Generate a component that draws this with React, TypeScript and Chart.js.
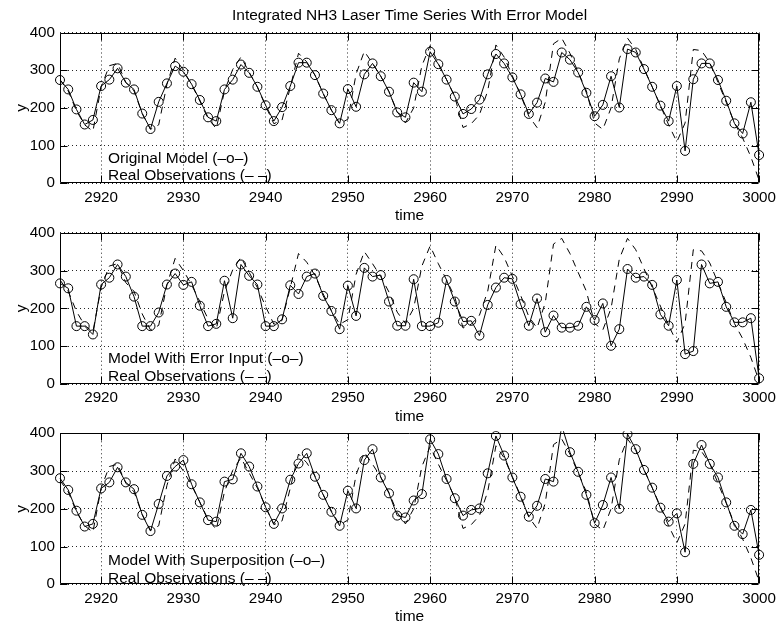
import React, { useEffect, useRef } from 'react';
import { Chart, registerables } from 'chart.js';

Chart.register(...registerables);

// ---------------- data ----------------
const FIRST_TIME = 2915;
const TIMES = Array.from({ length: 86 }, (_, i) => FIRST_TIME + i); // 2915 .. 3000

const OBSERVED = [
  275, 245, 192, 155, 138, 255, 312, 318, 268, 245,
  185, 143, 155, 262, 332, 300, 262, 218, 172, 145,
  245, 302, 335, 295, 255, 205, 158, 168, 255, 345,
  322, 287, 238, 194, 158, 170, 290, 350, 318, 284,
  243, 190, 160, 200, 312, 365, 318, 275, 230, 148,
  158, 182, 245, 367, 335, 285, 235, 178, 148, 215,
  370, 385, 345, 295, 245, 160, 143, 200, 330, 385,
  355, 305, 256, 206, 155, 110, 160, 355, 352, 320,
  268, 215, 160, 120, 70, 8,
];

const MODEL_ORIGINAL = [
  274, 249, 196, 156, 168, 258, 275, 305, 267, 249,
  185, 144, 216, 265, 311, 296, 263, 221, 175, 165,
  249, 275, 315, 293, 256, 207, 165, 202, 258, 320,
  320, 287, 238, 194, 159, 250, 203, 289, 318, 284,
  243, 188, 175, 267, 243, 349, 316, 275, 230, 184,
  197, 222, 289, 343, 318, 281, 236, 184, 214, 278,
  269, 347, 328, 294, 240, 178, 208, 284, 201, 356,
  347, 303, 256, 206, 165, 258, 86, 276, 318, 318,
  274, 219, 159, 132, 215, 75,
];

const MODEL_ERROR_INPUT = [
  266, 253, 153, 153, 131, 263, 281, 316, 284, 231,
  153, 153, 189, 263, 292, 262, 270, 207, 153, 159,
  273, 174, 316, 286, 263, 153, 153, 171, 261, 238,
  284, 292, 233, 193, 145, 260, 180, 307, 284, 288,
  218, 154, 154, 277, 153, 153, 162, 275, 218, 165,
  167, 128, 209, 255, 281, 278, 211, 154, 226, 137,
  181, 149, 149, 154, 204, 169, 213, 101, 145, 304,
  281, 284, 262, 184, 154, 275, 79, 87, 316, 266,
  270, 204, 163, 163, 174, 15,
];

const MODEL_SUPERPOSITION = [
  281, 250, 195, 153, 160, 254, 270, 310, 270, 252,
  184, 141, 213, 287, 312, 329, 265, 217, 170, 166,
  272, 278, 347, 312, 259, 204, 160, 201, 277, 320,
  347, 285, 237, 192, 155, 248, 201, 329, 358, 283,
  241, 182, 177, 222, 239, 384, 345, 279, 228, 182,
  197, 201, 294, 393, 341, 283, 232, 179, 208, 279,
  272, 420, 350, 298, 237, 162, 210, 283, 200, 398,
  358, 303, 256, 203, 166, 188, 85, 319, 369, 319,
  283, 217, 155, 133, 197, 78,
];

const X_TICKS = [2920, 2930, 2940, 2950, 2960, 2970, 2980, 2990, 3000];
const Y_TICKS = [0, 100, 200, 300, 400];
const X_RANGE = [2915, 3000];
const Y_RANGE = [0, 400];

const TITLE = 'Integrated NH3 Laser Time Series With Error Model';
const X_LABEL = 'time';
const Y_LABEL = 'y';
const OBS_LABEL = 'Real Observations (– –)';
const MODEL_LABELS = [
  'Original Model (–o–)',
  'Model With Error Input (–o–)',
  'Model With Superposition (–o–)',
];
const MODEL_SERIES = [MODEL_ORIGINAL, MODEL_ERROR_INPUT, MODEL_SUPERPOSITION];

// ---------------- layout ----------------
const W = 781;
const CANVAS_H = 227;
const PANEL_TOPS = [0, 200, 400];
const AREA_TOP = [32.5, 32.7, 33.3];
const AREA_BOTTOM = [183.3, 184, 184.3];
const TEXT_OFFSETS = [
  [20, 3.3],
  [20.7, 3.3],
  [19.3, 1],
];
const FONT = '"Liberation Sans", Arial, Helvetica, sans-serif';
const FONT_SIZE = 15.5;
const TICK_FONT_SIZE = 15.2;

function makeFramePlugin(panel: number) {
  return {
    id: 'frame' + panel,
    afterDraw(chart: any) {
      const ctx = chart.ctx;
      const a = chart.chartArea;
      const xs = chart.scales.x;
      const ys = chart.scales.y;
      ctx.save();
      ctx.strokeStyle = '#000';
      ctx.lineWidth = 1;
      ctx.setLineDash([]);
      const L = Math.round(a.left) + 0.5;
      const R = Math.round(a.right) - 0.5;
      const T = Math.round(a.top) + 0.5;
      const B = Math.round(a.bottom) - 0.5;
      ctx.beginPath();
      ctx.rect(L, T, R - L, B - T);
      ctx.stroke();
      const tl = 7;
      ctx.beginPath();
      X_TICKS.forEach((v) => {
        const px = Math.round(xs.getPixelForValue(v)) + 0.5;
        ctx.moveTo(px, B);
        ctx.lineTo(px, B - tl);
        ctx.moveTo(px, T);
        ctx.lineTo(px, T + tl);
      });
      Y_TICKS.forEach((v) => {
        const py = Math.round(ys.getPixelForValue(v)) + 0.5;
        ctx.moveTo(L, py);
        ctx.lineTo(L + tl, py);
        ctx.moveTo(R, py);
        ctx.lineTo(R - tl, py);
      });
      ctx.stroke();

      ctx.fillStyle = '#000';
      ctx.font = `${FONT_SIZE}px ${FONT}`;
      ctx.textBaseline = 'alphabetic';
      const cx = (a.left + a.right) / 2;
      if (panel === 0) {
        ctx.textAlign = 'center';
        ctx.fillText(TITLE, cx, 20);
      }
      ctx.textAlign = 'center';
      ctx.fillText(X_LABEL, cx, a.bottom + 37);

      ctx.save();
      ctx.translate(26, (a.top + a.bottom) / 2);
      ctx.rotate(-Math.PI / 2);
      ctx.textAlign = 'center';
      ctx.fillText(Y_LABEL, 0, 0);
      ctx.restore();

      ctx.textAlign = 'left';
      const [o1, o2] = TEXT_OFFSETS[panel];
      ctx.fillText(MODEL_LABELS[panel], 108, a.bottom - o1);
      ctx.fillText(OBS_LABEL, 108, a.bottom - o2);
      ctx.restore();
    },
  };
}

function Panel({ index }: { index: number }) {
  const ref = useRef<HTMLCanvasElement | null>(null);
  useEffect(() => {
    if (!ref.current) return;
    const model = MODEL_SERIES[index];
    const chart = new Chart(ref.current, {
      type: 'line',
      data: {
        datasets: [
          {
            label: MODEL_LABELS[index],
            data: TIMES.map((t, i) => ({ x: t, y: model[i] })),
            borderColor: '#000',
            borderWidth: 1,
            pointRadius: 4.5,
            pointBorderWidth: 1,
            pointBorderColor: '#000',
            pointBackgroundColor: 'rgba(0,0,0,0)',
            tension: 0,
            fill: false,
            clip: { left: 6, right: 6, top: 2, bottom: 6 },
          } as any,
          {
            label: OBS_LABEL,
            data: TIMES.map((t, i) => ({ x: t, y: OBSERVED[i] })),
            borderColor: '#000',
            borderWidth: 1,
            borderDash: [7, 6],
            pointRadius: 0,
            tension: 0,
            fill: false,
            clip: 0,
          } as any,
        ],
      },
      options: {
        animation: false,
        responsive: false,
        maintainAspectRatio: false,
        events: [],
        layout: {
          padding: { top: AREA_TOP[index], right: 20, left: 0, bottom: 0 },
        },
        plugins: {
          legend: { display: false },
          tooltip: { enabled: false },
          title: { display: false },
        },
        scales: {
          x: {
            type: 'linear',
            min: X_RANGE[0],
            max: X_RANGE[1],
            afterBuildTicks: (s: any) => {
              s.ticks = X_TICKS.map((v) => ({ value: v }));
            },
            afterFit: (s: any) => {
              s.height = CANVAS_H - AREA_BOTTOM[index];
            },
            grid: { color: 'rgba(0,0,0,0.85)', lineWidth: 1, drawTicks: false },
            border: { display: false, dash: [1, 3] },
            ticks: {
              color: '#000',
              font: { family: FONT, size: TICK_FONT_SIZE },
              padding: 5,
              maxRotation: 0,
              autoSkip: false,
              callback: (v: any) => String(v),
            },
          },
          y: {
            type: 'linear',
            min: Y_RANGE[0],
            max: Y_RANGE[1],
            afterBuildTicks: (s: any) => {
              s.ticks = Y_TICKS.map((v) => ({ value: v }));
            },
            afterFit: (s: any) => {
              s.width = 60;
            },
            grid: { color: 'rgba(0,0,0,0.85)', lineWidth: 1, drawTicks: false },
            border: { display: false, dash: [1, 3] },
            ticks: {
              color: '#000',
              font: { family: FONT, size: TICK_FONT_SIZE },
              padding: 5,
              autoSkip: false,
              callback: (v: any) => String(v),
            },
          },
        },
      } as any,
      plugins: [makeFramePlugin(index)],
    });
    return () => chart.destroy();
  }, [index]);
  return (
    <canvas
      ref={ref}
      width={W}
      height={CANVAS_H}
      style={{
        position: 'absolute',
        left: 0,
        top: PANEL_TOPS[index],
        width: W,
        height: CANVAS_H,
      }}
    />
  );
}

export default function App() {
  return (
    <div
      style={{
        position: 'absolute',
        left: 0,
        top: 0,
        width: W,
        height: 627,
        background: '#fff',
        overflow: 'hidden',
      }}
    >
      <Panel index={0} />
      <Panel index={1} />
      <Panel index={2} />
    </div>
  );
}
